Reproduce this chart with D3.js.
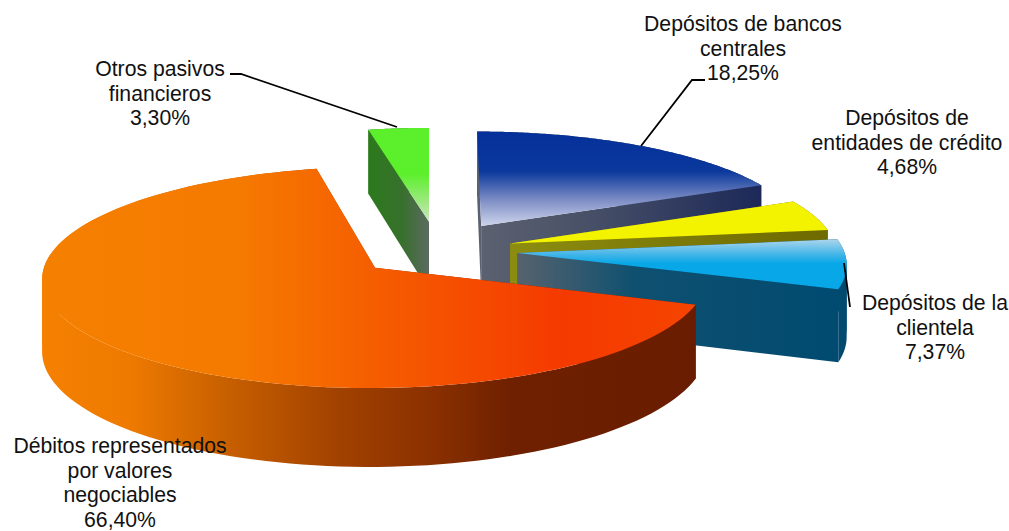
<!DOCTYPE html>
<html>
<head>
<meta charset="utf-8">
<script src="https://cdn.jsdelivr.net/npm/d3@7"></script>
<style>
  html, body { margin: 0; padding: 0; background: #fff; }
  text { font-family: "Liberation Sans", Arial, sans-serif; font-size: 21.2px; fill: #111; text-anchor: middle; }
</style>
</head>
<body>
<div id="chart"></div>
<script>
// Pie values, clockwise from the top
const categories = ["Depósitos de bancos centrales", "Depósitos de entidades de crédito", "Depósitos de la clientela", "Débitos representados por valores negociables", "Otros pasivos financieros"];
const values = [18.25, 4.68, 7.37, 66.40, 3.30];

// Label lines, same order as categories
const labelLines = [
  ["Depósitos de bancos", "centrales"],
  ["Depósitos de", "entidades de crédito"],
  ["Depósitos de la", "clientela"],
  ["Débitos representados", "por valores", "negociables"],
  ["Otros pasivos", "financieros"]
];

// How far each slice is pulled out, in radius units
const explodeX = [0.163, 0.25, 0.27, -0.163, 0];
const explodeY = [0.248, 0.08, -0.01, -0.145, 0.29];

const width = 1009, height = 531;
const cx = 429, cy = 252;
const radiusX = 327, radiusY = 107, tilt = 0.087, depth = 71;
const steps = 120;

const svg = d3.select("#chart").append("svg")
  .attr("width", width)
  .attr("height", height)
  .style("display", "block");
const defs = svg.append("defs");

function gradient(id, x1, y1, x2, y2, stops) {
  const g = defs.append("linearGradient")
    .attr("id", id)
    .attr("gradientUnits", "userSpaceOnUse")
    .attr("x1", x1).attr("y1", y1).attr("x2", x2).attr("y2", y2);
  stops.forEach(function (s) {
    g.append("stop").attr("offset", s[0]).attr("stop-color", s[1]);
  });
  return "url(#" + id + ")";
}

// top face and side colours per slice
const topFill = [
  gradient("top0", 0, 130, 0, 228, [[0, "#05309a"], [0.42, "#0a389c"], [0.72, "#7f8fc6"], [1, "#d3daee"]]),
  "#f3f300",
  gradient("top2", 0, 238, 0, 272, [[0, "#b5d8ec"], [0.5, "#3fb4e8"], [0.75, "#08a8e8"], [1, "#08a8e8"]]),
  gradient("top3", 44, 0, 693, 0, [[0, "#f58000"], [0.3, "#f57a00"], [0.52, "#f55c00"], [0.8, "#f53a00"], [1, "#f54400"]]),
  gradient("top4", 0, 126, 0, 222, [[0, "#5cf02c"], [0.5, "#5cf02c"], [0.8, "#a0e884"], [1, "#cde8c0"]])
];
const sideFill = [
  gradient("side0", 480, 0, 763, 0, [[0, "#5b6170"], [0.35, "#4a5268"], [1, "#1c2858"]]),
  gradient("side1", 513, 0, 827, 0, [[0, "#8c8c10"], [1, "#6e6a00"]]),
  gradient("side2", 520, 0, 845, 0, [[0, "#55626e"], [0.35, "#0f5070"], [1, "#004a70"]]),
  gradient("side3", 44, 0, 693, 0, [[0, "#f58000"], [0.13, "#ee7a00"], [0.28, "#c86000"], [0.45, "#a24200"], [0.6, "#8a3000"], [0.72, "#6e2000"], [1, "#6a1c00"]]),
  gradient("side4", 368, 0, 429, 0, [[0, "#2c7a1c"], [0.55, "#37702c"], [1, "#5c6a60"]])
];

const pie = d3.pie().sort(null).value(function (d) { return d; });
const arcs = pie(values);

// plane coordinates to screen, far points are a bit smaller
function project(u, v, z) {
  const w = 1 + tilt * v;
  return [cx + radiusX * u / w, cy - radiusY * v / w + z * depth / w];
}

const line = d3.line();

function slicePoints(i, a, r) {
  return [explodeX[i] + r * Math.sin(a), explodeY[i] + r * Math.cos(a)];
}

function rim(i, z, start, end) {
  return d3.range(0, steps + 1).map(function (k) {
    const p = slicePoints(i, start + (end - start) * k / steps, 1);
    return project(p[0], p[1], z);
  });
}

function drawSlice(i) {
  const d = arcs[i];
  const g = svg.append("g");
  const apexTop = project(explodeX[i], explodeY[i], 0);
  const apexBottom = project(explodeX[i], explodeY[i], 1);
  const topRim = rim(i, 0, d.startAngle, d.endAngle);
  const bottomRim = rim(i, 1, d.startAngle, d.endAngle);

  // one polygon would fold over at the silhouette, so split where x turns back
  function wall() {
    let from = 0;
    d3.range(1, steps + 1).forEach(function (k) {
      const turns = k < steps &&
        (topRim[k][0] - topRim[k - 1][0]) * (topRim[k + 1][0] - topRim[k][0]) < 0;
      if (turns || k === steps) {
        const top = topRim.slice(from, k + 1);
        const bottom = bottomRim.slice(from, k + 1).reverse();
        g.append("path")
          .attr("d", line(top.concat(bottom)) + "Z")
          .attr("fill", sideFill[i]);
        from = k;
      }
    });
  }
  function cuts() {
    [[topRim[0], bottomRim[0]], [topRim[steps], bottomRim[steps]]].forEach(function (e) {
      g.append("path")
        .attr("d", line([apexTop, e[0], e[1], apexBottom]) + "Z")
        .attr("fill", sideFill[i]);
    });
  }
  if (Math.cos((d.startAngle + d.endAngle) / 2) > 0) { wall(); cuts(); } else { cuts(); wall(); }

  g.append("path")
    .attr("d", line([apexTop].concat(topRim)) + "Z")
    .attr("fill", topFill[i]);
}

// back to front
[4, 0, 1, 2, 3].forEach(drawSlice);

// leader lines
const leaders = [
  [[705, 80], [692, 80], [641, 146]],
  [[844, 263], [850, 307]],
  [[230, 74], [241, 74], [397, 127]]
];
svg.selectAll(".leader").data(leaders).join("path")
  .attr("class", "leader")
  .attr("d", function (d) { return line(d); })
  .attr("fill", "none")
  .attr("stroke", "#000")
  .attr("stroke-width", 1.8);

// labels
const labelX = [743, 907, 935, 120, 160];
const labelY = [31, 125, 310, 453, 76];
const lineStep = 24.6;
arcs.forEach(function (d, i) {
  const lines = labelLines[i].concat([values[i].toFixed(2).replace(".", ",") + "%"]);
  const t = svg.append("text")
    .attr("x", labelX[i])
    .attr("y", labelY[i])
    .attr("aria-label", categories[i]);
  lines.forEach(function (s, k) {
    t.append("tspan")
      .attr("x", labelX[i])
      .attr("y", labelY[i] + k * lineStep)
      .text(s);
  });
});
</script>
</body>
</html>
